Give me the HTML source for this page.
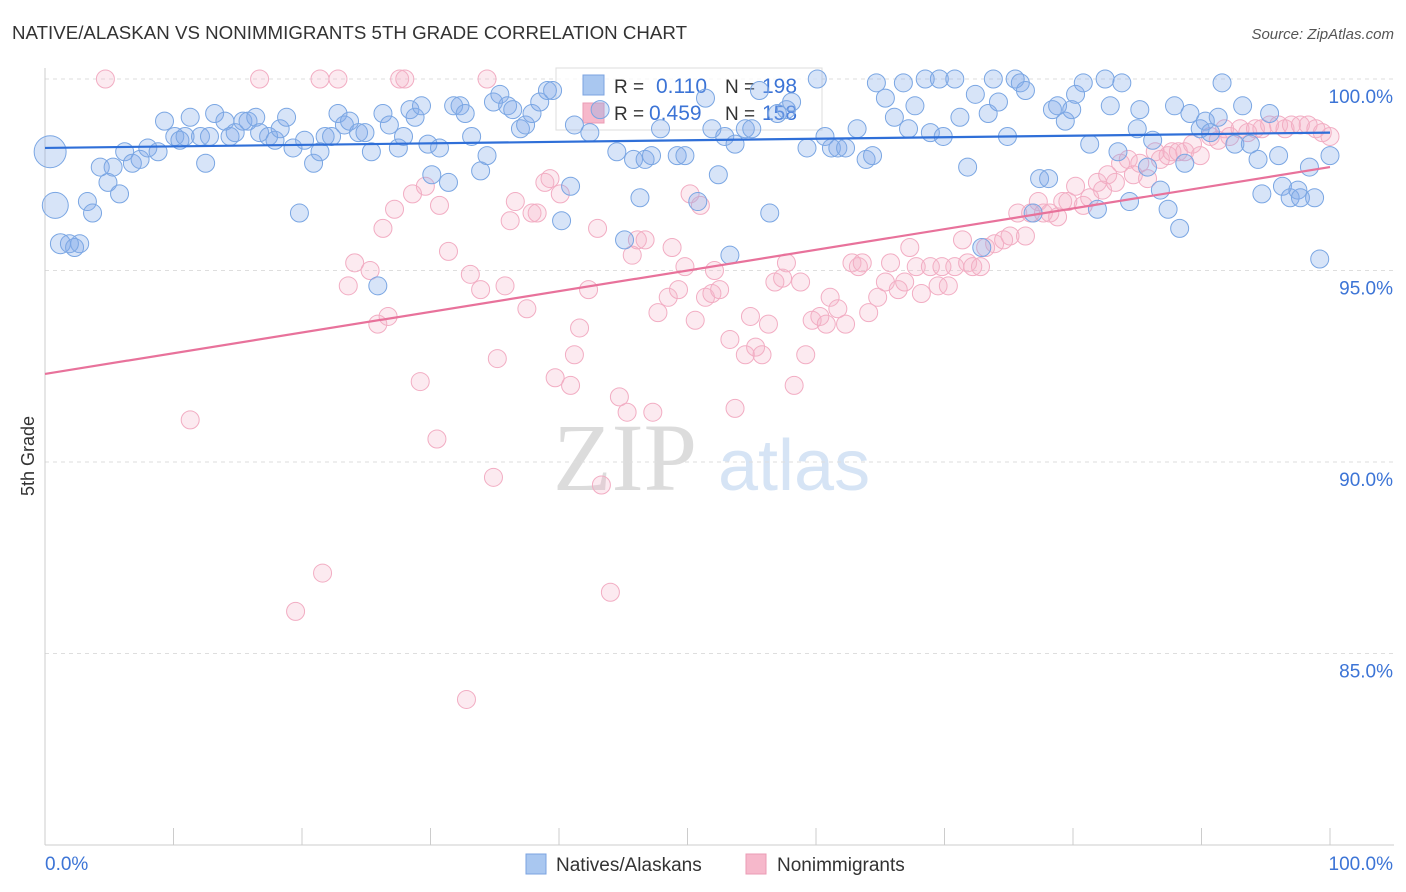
<!DOCTYPE html>
<html><head><meta charset="utf-8">
<style>
body{margin:0;background:#fff;font-family:"Liberation Sans",sans-serif;}
#wrap{position:relative;width:1406px;height:892px;overflow:hidden;}
</style></head>
<body>
<div id="wrap">
<svg id="chart" width="1406" height="892" xmlns="http://www.w3.org/2000/svg">
<text x="12" y="39" font-size="18.7" fill="#333" textLength="675">NATIVE/ALASKAN VS NONIMMIGRANTS 5TH GRADE CORRELATION CHART</text>
<text x="1394" y="39" font-size="15" fill="#555" font-style="italic" text-anchor="end">Source: ZipAtlas.com</text>
<text transform="translate(34,456) rotate(-90)" font-size="18" fill="#333" text-anchor="middle">5th Grade</text>
<g>
<text x="553" y="490" font-size="96" font-family="Liberation Serif,serif" fill="#dcdcdc">ZIP</text>
<text x="718" y="490" font-size="72" fill="#d6e4f5">atlas</text>
</g>
<g id="grid"></g>
<g id="axes"></g>
<g id="legendTop">
<rect x="556" y="68" width="266" height="62" fill="rgba(255,255,255,0.75)" stroke="#ddd"/>
<rect x="583" y="75" width="21" height="20" fill="#a9c7f0" stroke="#7ba3e0"/>
<rect x="583" y="103" width="21" height="20" fill="#f6b8cb" stroke="#eb9bb5"/>
<text x="614" y="93" font-size="19" fill="#333">R =</text>
<text x="656" y="93" font-size="21" fill="#3c74d6">0.110</text>
<text x="725" y="93" font-size="19" fill="#333">N =</text>
<text x="762" y="93" font-size="21" fill="#3c74d6">198</text>
<text x="614" y="120" font-size="19" fill="#333">R =</text>
<text x="649" y="120" font-size="21" fill="#3c74d6">0.459</text>
<text x="725" y="120" font-size="19" fill="#333">N =</text>
<text x="762" y="120" font-size="21" fill="#3c74d6">158</text>
</g>
<g id="pinkPts"></g>
<g id="bluePts"></g>
<g id="lines"></g>
<g>
<rect x="526" y="854" width="20" height="20" fill="#a9c7f0" stroke="#7ba3e0"/>
<text x="556" y="871" font-size="19" fill="#333">Natives/Alaskans</text>
<rect x="746" y="854" width="20" height="20" fill="#f6b8cb" stroke="#eb9bb5"/>
<text x="777" y="871" font-size="19" fill="#333">Nonimmigrants</text>
</g>
</svg>
</div>
<script>
const blueX=[0.4,0.8,1.2,2.3,2.7,1.9,3.3,3.7,4.3,4.9,5.3,5.8,6.2,6.8,7.4,8.0,8.8,9.3,10.1,10.5,11.3,10.9,12.1,12.5,12.8,13.2,14.0,14.4,14.8,15.4,15.8,16.4,16.7,17.4,17.9,18.3,18.8,19.3,19.8,20.2,20.9,21.4,21.8,22.3,22.8,23.3,23.7,24.4,24.9,25.4,25.9,26.3,26.8,27.5,27.9,28.4,28.8,29.3,29.8,30.1,30.7,31.4,31.8,32.3,32.7,33.2,33.9,34.4,34.9,35.4,36.0,36.4,37.0,37.4,37.9,38.5,39.1,39.5,40.2,40.9,41.2,42.4,43.2,44.5,45.1,45.8,46.3,46.7,47.2,47.9,49.2,49.8,50.8,51.4,51.9,52.4,52.9,53.3,53.7,54.5,55.0,55.6,56.4,57.0,57.7,58.1,59.3,60.1,60.7,61.2,61.7,62.3,63.2,63.9,64.4,64.7,65.4,66.1,66.8,67.2,67.7,68.5,68.9,69.6,69.9,70.8,71.2,71.8,72.4,72.9,73.4,73.8,74.2,74.9,75.5,75.9,76.3,76.9,77.4,78.1,78.4,78.8,79.4,79.9,80.2,80.8,81.3,81.9,82.5,82.9,83.5,83.8,84.4,85.0,85.2,85.8,86.2,86.8,87.4,87.9,88.3,88.7,89.1,89.9,90.3,90.7,91.3,91.6,92.6,93.2,93.8,94.4,94.7,95.3,96.0,96.3,96.9,97.5,97.7,98.4,98.8,99.2,100];
const blueY=[98.1,96.7,95.7,95.6,95.7,95.7,96.8,96.5,97.7,97.3,97.7,97.0,98.1,97.8,97.9,98.2,98.1,98.9,98.5,98.4,99.0,98.5,98.5,97.8,98.5,99.1,98.9,98.5,98.6,98.9,98.9,99.0,98.6,98.5,98.4,98.7,99.0,98.2,96.5,98.4,97.8,98.1,98.5,98.5,99.1,98.8,98.9,98.6,98.6,98.1,94.6,99.1,98.8,98.2,98.5,99.2,99.0,99.3,98.3,97.5,98.2,97.3,99.3,99.3,99.1,98.5,97.6,98.0,99.4,99.6,99.3,99.2,98.7,98.8,99.1,99.4,99.7,99.7,96.3,97.2,98.8,98.6,99.2,98.1,95.8,97.9,96.9,97.9,98.0,98.7,98.0,98.0,96.8,99.5,98.7,97.5,98.5,95.4,98.3,98.7,98.7,99.7,96.5,99.1,99.2,99.4,98.2,100,98.5,98.2,98.2,98.2,98.7,97.9,98.0,99.9,99.5,99.0,99.9,98.7,99.3,100,98.6,100,98.5,100,99.0,97.7,99.6,95.6,99.1,100,99.4,98.5,100,99.9,99.7,96.5,97.4,97.4,99.2,99.3,98.9,99.2,99.6,99.9,98.3,96.6,100,99.3,98.1,99.9,96.8,98.7,99.2,97.7,98.4,97.1,96.6,99.3,96.1,97.8,99.1,98.7,98.9,98.6,99.0,99.9,98.3,99.3,98.3,97.9,97.0,99.1,98.0,97.2,96.9,97.1,96.9,97.7,96.9,95.3,98.0];
const blueSize=[16,13,10];
const pinkX=[4.7,11.3,16.7,19.5,21.4,21.6,22.8,23.6,24.1,25.3,25.9,26.3,26.7,27.2,27.6,28.0,28.6,29.2,29.6,30.5,30.7,31.4,32.8,33.1,33.9,34.4,34.9,35.2,35.8,36.2,36.6,37.5,37.9,38.3,38.9,39.3,39.7,40.1,40.9,41.2,41.6,42.3,43.0,43.3,44.0,44.7,45.3,45.7,46.1,46.7,47.3,47.7,48.5,48.8,49.3,49.8,50.2,50.6,51.0,51.4,51.9,52.1,52.5,53.3,53.7,54.5,54.9,55.3,55.8,56.3,56.8,57.4,57.7,58.3,58.8,59.2,59.7,60.3,60.8,61.1,61.7,62.3,62.8,63.3,63.6,64.1,64.8,65.4,65.8,66.4,66.9,67.3,67.8,68.2,68.9,69.5,69.8,70.3,70.8,71.4,71.8,72.2,72.8,73.2,73.9,74.6,75.1,75.7,76.3,76.7,77.3,77.7,78.2,78.8,79.2,79.6,80.2,80.8,81.3,81.9,82.3,82.7,83.3,83.7,84.3,84.7,85.2,85.8,86.4,86.8,87.4,87.7,88.2,88.7,89.3,89.9,90.7,91.3,91.8,92.2,93.0,93.6,94.2,94.7,95.3,96.0,96.5,97.0,97.7,98.3,98.9,99.4,100];
const pinkY=[100,91.1,100,86.1,100,87.1,100,94.6,95.2,95.0,93.6,96.1,93.8,96.6,100,100,97.0,92.1,97.2,90.6,96.7,95.5,83.8,94.9,94.5,100,89.6,92.7,94.6,96.3,96.8,94.0,96.5,96.5,97.3,97.4,92.2,97.0,92.0,92.8,93.5,94.5,96.1,89.4,86.6,91.7,91.3,95.4,95.8,95.8,91.3,93.9,94.3,95.6,94.5,95.1,97.0,93.7,96.7,94.3,94.4,95.0,94.5,93.2,91.4,92.8,93.8,93.0,92.8,93.6,94.7,94.8,95.2,92.0,94.7,92.8,93.7,93.8,93.6,94.3,94.0,93.6,95.2,95.1,95.2,93.9,94.3,94.7,95.2,94.5,94.7,95.6,95.1,94.4,95.1,94.6,95.1,94.6,95.1,95.8,95.2,95.1,95.1,95.6,95.7,95.8,95.9,96.5,95.9,96.5,96.8,96.5,96.5,96.4,96.8,96.8,97.2,96.7,96.9,97.3,97.1,97.5,97.3,97.8,97.9,97.5,97.8,97.4,98.1,97.9,98.0,98.1,98.1,98.1,98.3,98.0,98.5,98.4,98.7,98.5,98.7,98.6,98.7,98.7,98.8,98.8,98.7,98.8,98.8,98.8,98.7,98.6,98.5];
const blueTrend=[98.2,98.6];
const pinkTrend=[92.3,97.7];
const yTicks=[100,95,90,85];
const xTickVals=[0,10,20,30,40,50,60,70,80,90,100];

const NS='http://www.w3.org/2000/svg';
const X0=45,X1=1330,Y100=79,PXPER=38.3;
function sx(v){return X0+(X1-X0)*v/100;}
function sy(v){return Y100+(100-v)*PXPER;}
function mk(tag,attrs,parent){const e=document.createElementNS(NS,tag);for(const k in attrs)e.setAttribute(k,attrs[k]);parent.appendChild(e);return e;}

const grid=document.getElementById('grid');
yTicks.forEach(t=>{
  const l=mk('line',{x1:45,x2:1394,y1:sy(t),y2:sy(t),stroke:'#dedede','stroke-dasharray':'4,4'},grid);
  
  
  const tx=mk('text',{x:1393,y:sy(t)+24,'font-size':19,fill:'#3c74d6','text-anchor':'end'},grid);
  tx.textContent=t.toFixed(1)+'%';
  
  
});
const axes=document.getElementById('axes');
let a=mk('line',{x1:45,x2:45,y1:68,y2:845,stroke:'#ccc'},axes);


a=mk('line',{x1:45,x2:1394,y1:845,y2:845,stroke:'#ccc'},axes);


xTickVals.forEach(v=>{
  const t=mk('line',{x1:sx(v),x2:sx(v),y1:828,y2:845,stroke:'#ccc'},axes);
  
  
});
let lx=mk('text',{x:45,y:870,'font-size':19,fill:'#3c74d6'},axes);lx.textContent='0.0%';


lx=mk('text',{x:1393,y:870,'font-size':19,fill:'#3c74d6','text-anchor':'end'},axes);lx.textContent='100.0%';



const pg=document.getElementById('pinkPts');
pinkX.forEach((x,i)=>{
  const c=mk('circle',{cx:sx(x),cy:sy(pinkY[i]),r:9,fill:'rgba(246,180,202,0.28)',stroke:'#f2adc3','stroke-width':1},pg);
  
  
});
const bg=document.getElementById('bluePts');
blueX.forEach((x,i)=>{
  const c=mk('circle',{cx:sx(x),cy:sy(blueY[i]),r:blueSize[i]||9,fill:'rgba(130,172,232,0.32)',stroke:'#7aa6e3','stroke-width':1},bg);
  
  
});
const lg=document.getElementById('lines');
let ln=mk('line',{x1:sx(0),y1:sy(blueTrend[0]),x2:sx(100),y2:sy(blueTrend[1]),stroke:'#2f6fd8','stroke-width':2.2},lg);


ln=mk('line',{x1:sx(0),y1:sy(pinkTrend[0]),x2:sx(100),y2:sy(pinkTrend[1]),stroke:'#e8729b','stroke-width':2.2},lg);


</script>
</body></html>
